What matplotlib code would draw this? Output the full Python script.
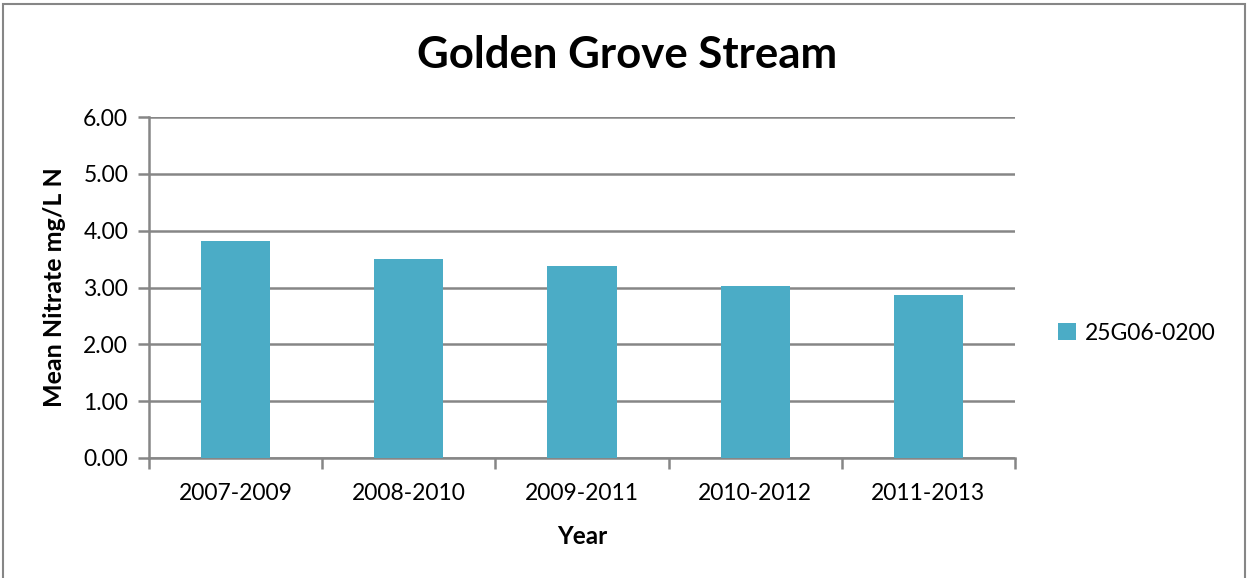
import matplotlib
matplotlib.use("Agg")
import matplotlib.pyplot as plt
from matplotlib.patches import Rectangle
import numpy as np

categories = ["2007-2009", "2008-2010", "2009-2011", "2010-2012", "2011-2013"]
values = [3.82, 3.51, 3.37, 3.03, 2.86]
series_name = "25G06-0200"
yticks = [0, 1, 2, 3, 4, 5, 6]

plt.rcParams['font.family'] = ['Lato', 'DejaVu Sans']

W, H = 1250, 578
fig = plt.figure(figsize=(W / 100, H / 100), dpi=100)
ax = fig.add_axes([149 / W, 1 - 458 / H, (1015 - 149) / W, (458 - 117) / H])

x = np.arange(len(categories))
bars = ax.bar(x, values, width=0.4, color="#4BACC6", zorder=3, label=series_name)

ax.set_xlim(-0.5, len(categories) - 0.5)
ax.set_ylim(0, 6)
ax.set_yticks(yticks)
ax.set_yticklabels([f"{v:.2f}" for v in yticks])
ax.set_xticks(x)
ax.set_xticklabels(categories)
ax.set_xticks(np.arange(-0.5, len(categories)), minor=True)

gray = "#868686"
ax.yaxis.grid(True, color=gray, linewidth=1.8, zorder=0)
for s in ["top", "right"]:
    ax.spines[s].set_visible(False)
ax.spines["left"].set_color(gray)
ax.spines["left"].set_linewidth(1.8)
ax.spines["bottom"].set_color(gray)
ax.spines["bottom"].set_linewidth(1.8)

ax.tick_params(axis="y", length=8, width=1.8, color=gray, labelsize=16.5, pad=7, labelcolor="black")
ax.tick_params(axis="x", which="major", length=0, labelsize=16.5, pad=18, labelcolor="black")
ax.tick_params(axis="x", which="minor", length=8, width=1.8, color=gray)

ax.set_xlabel("Year", fontsize=17.5, fontweight="bold", labelpad=15)
ax.set_ylabel("Mean Nitrate mg/L N", fontsize=18, fontweight="bold", labelpad=12)

fig.text(627 / W, 1 - 55 / H, "Golden Grove Stream", ha="center", va="center",
         fontsize=31.5, fontweight="bold")

leg = fig.legend(handles=[bars], labels=[series_name], loc="center left",
                 bbox_to_anchor=(1037 / W, 1 - 333 / H), frameon=False, fontsize=16.5,
                 handlelength=0.8, handleheight=0.8, handletextpad=0.4)

fig.patches.append(Rectangle((3 / W, -0.01), (1245 - 3) / W, 1 - 4 / H + 0.01,
                             transform=fig.transFigure, fill=False,
                             edgecolor=gray, linewidth=1.5))

fig.savefig("out.png", dpi=100)
